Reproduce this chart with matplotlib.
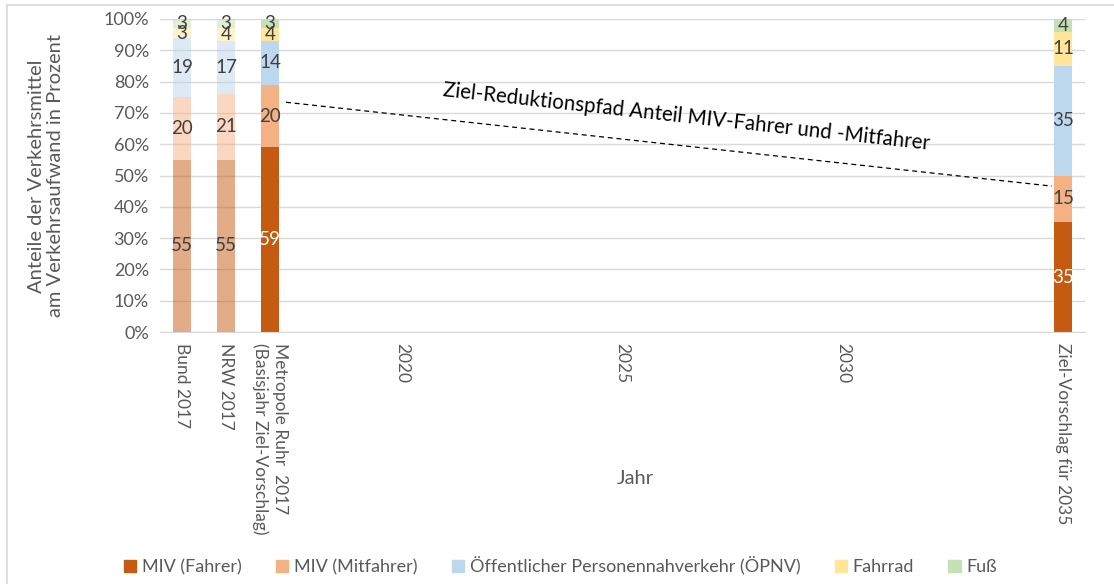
import numpy as np
import matplotlib
matplotlib.use("Agg")
from matplotlib import pyplot as plt
from matplotlib.patches import Patch

plt.rcParams['font.family'] = ['Lato', 'DejaVu Sans']

# Kategorien der x-Achse (nur einige beschriftet)
tick_labels = ['Bund 2017', 'NRW 2017', 'Metropole Ruhr  2017\n(Basisjahr Ziel-Vorschlag)',
               '', '', '2020', '', '', '', '', '2025', '', '', '', '', '2030',
               '', '', '', '', 'Ziel-Vorschlag für 2035']
bar_pos = [0, 1, 2, 20]
bar_alpha = [0.5, 0.5, 1.0, 1.0]

series = ['MIV (Fahrer)', 'MIV (Mitfahrer)', 'Öffentlicher Personennahverkehr (ÖPNV)', 'Fahrrad', 'Fuß']
colors = ['#C55A11', '#F4B183', '#BDD7EE', '#FFE699', '#C5E0B4']
miv_fahrer = [55, 55, 59, 35]
miv_mitfahrer = [20, 21, 20, 15]
oepnv = [19, 17, 14, 35]
fahrrad = [3, 4, 4, 11]
fuss = [3, 3, 3, 4]

# Ziel-Reduktionspfad (gestrichelte Linie)
pfad_x = [2.36, 19.75]
pfad_y = [73.4, 46.6]

fig = plt.figure(figsize=(11.14, 5.86), dpi=100)
ax = fig.add_axes([0.1436, 0.4334, 0.8304, 0.5342])

data = [miv_fahrer, miv_mitfahrer, oepnv, fahrrad, fuss]
bottom = np.zeros(len(bar_pos))
for si, vals in enumerate(data):
    for bi, x in enumerate(bar_pos):
        ax.bar(x, vals[bi], bottom=bottom[bi], width=0.42, color=colors[si],
               alpha=bar_alpha[bi], zorder=2)
        tc = 'white' if (si == 0 and bar_alpha[bi] == 1.0) else '#404040'
        ax.text(x, bottom[bi] + vals[bi] / 2, str(vals[bi]), ha='center', va='center',
                fontsize=13.5, color=tc, zorder=3)
    bottom += np.array(vals)

ax.plot(pfad_x, pfad_y, color='black', lw=0.9, ls=(0, (4, 3)), zorder=3)
ax.text(11.45, 68.6, 'Ziel-Reduktionspfad Anteil MIV-Fahrer und -Mitfahrer',
        rotation=-6.3, ha='center', va='center', fontsize=14.8, color='black')

ax.set_xlim(-0.5, 20.5)
ax.set_ylim(0, 100)
ax.set_yticks(range(0, 101, 10))
ax.set_yticklabels([f'{v}%' for v in range(0, 101, 10)], fontsize=13, color='#595959')
ax.set_xticks(range(len(tick_labels)))
ax.set_xticklabels(tick_labels, rotation=270, fontsize=12.5, color='#595959',
                   va='top', ha='center', multialignment='left')
ax.tick_params(length=0, pad=8)
ax.grid(axis='y', color='#D9D9D9', lw=1, zorder=0)
for s in ['top', 'right', 'left']:
    ax.spines[s].set_visible(False)
ax.spines['bottom'].set_color('#D9D9D9')

fig.text(0.041, 0.70, 'Anteile der Verkehrsmittel\nam Verkehrsaufwand in Prozent',
         rotation=90, ha='center', va='center', fontsize=14.5, color='#595959',
         linespacing=1.15)
fig.text(0.57, 0.184, 'Jahr', ha='center', va='center', fontsize=14.5, color='#595959')

handles = [Patch(color=c) for c in colors]
fig.legend(handles, series, loc='center', bbox_to_anchor=(0.503, 0.034), ncol=5,
           frameon=False, fontsize=13, handlelength=0.7, handleheight=0.7,
           handletextpad=0.3, columnspacing=1.9, labelcolor='#595959')

# Rahmen des Diagrammbereichs
fig.add_artist(plt.Line2D([0.0065, 0.0065], [0.005, 0.9915], color='#D9D9D9', lw=1.2))
fig.add_artist(plt.Line2D([0.0065, 1.0], [0.9915, 0.9915], color='#D9D9D9', lw=1.2))

fig.savefig('out.png', dpi=100)
